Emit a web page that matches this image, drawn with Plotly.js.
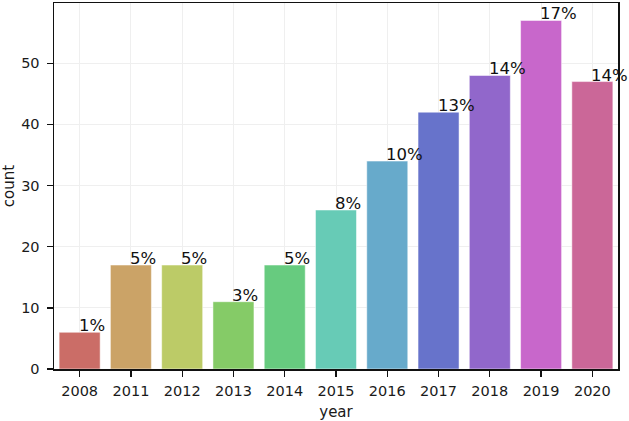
<!DOCTYPE html>
<html>
<head>
<meta charset="utf-8">
<script src="https://cdn.plot.ly/plotly-3.0.1.min.js"></script>
<style>
  html, body { margin: 0; padding: 0; background: #fff; }
  #chart { width: 629px; height: 421px; }
</style>
</head>
<body>
<div id="chart"></div>
<script>
/* global Plotly */

const years = ['2008', '2011', '2012', '2013', '2014', '2015', '2016', '2017', '2018', '2019', '2020'];
const counts = [6, 17, 17, 11, 17, 26, 34, 42, 48, 57, 47];
const shareLabels = ['1%', '5%', '5%', '3%', '5%', '8%', '10%', '13%', '14%', '17%', '14%'];

// seaborn "hls" palette, desaturated for bars
const hues = [3.6, 36.3, 69.1, 101.8, 134.5, 167.2, 200.0, 232.7, 265.4, 298.1, 330.9];
const barColors = hues.map((h) => `hsl(${h}, 48.75%, 60%)`);

const font = 'DejaVu Sans, sans-serif';

const trace = {
  type: 'bar',
  x: years,
  y: counts,
  width: 0.8,
  marker: {
    color: barColors,
    line: { color: 'rgba(255,255,255,0.5)', width: 1 },
  },
  hoverinfo: 'x+y',
};

// label sits with its left edge at the bar centre and its baseline on the bar top
const annotations = years.map((year, i) => ({
  x: i,
  y: counts[i],
  xref: 'x',
  yref: 'y',
  text: shareLabels[i],
  showarrow: false,
  xanchor: 'left',
  yanchor: 'bottom',
  yshift: -5,
  xshift: -3,
  font: { family: font, size: 16.5, color: '#111' },
}));

const layout = {
  width: 629,
  height: 421,
  margin: { l: 54, r: 11, t: 3, b: 52 },
  paper_bgcolor: '#fff',
  plot_bgcolor: '#fff',
  showlegend: false,
  bargap: 0.2,
  font: { family: font, size: 14.5, color: '#1a1a1a' },
  xaxis: {
    type: 'category',
    range: [-0.5, 10.5],
    showline: true,
    linecolor: '#111',
    linewidth: 1.5,
    mirror: true,
    ticks: 'outside',
    ticklen: 6,
    tickwidth: 1.3,
    tickcolor: '#111',
    ticklabelstandoff: 2,
    showgrid: true,
    gridcolor: '#efefef',
    gridwidth: 1,
    title: { text: 'year', font: { family: font, size: 15, color: '#1a1a1a' }, standoff: 8 },
    tickfont: { family: font, size: 14.5, color: '#1a1a1a' },
  },
  yaxis: {
    range: [0, 59.85],
    dtick: 10,
    showline: true,
    linecolor: '#111',
    linewidth: 1.5,
    mirror: true,
    ticks: 'outside',
    ticklen: 6,
    tickwidth: 1.3,
    tickcolor: '#111',
    ticklabelstandoff: 4,
    showgrid: true,
    gridcolor: '#efefef',
    gridwidth: 1,
    zeroline: false,
    title: { text: 'count', font: { family: font, size: 15, color: '#1a1a1a' }, standoff: 6 },
    tickfont: { family: font, size: 14.5, color: '#1a1a1a' },
  },
  annotations,
};

Plotly.newPlot('chart', [trace], layout, { displayModeBar: false, staticPlot: true });
</script>
</body>
</html>
